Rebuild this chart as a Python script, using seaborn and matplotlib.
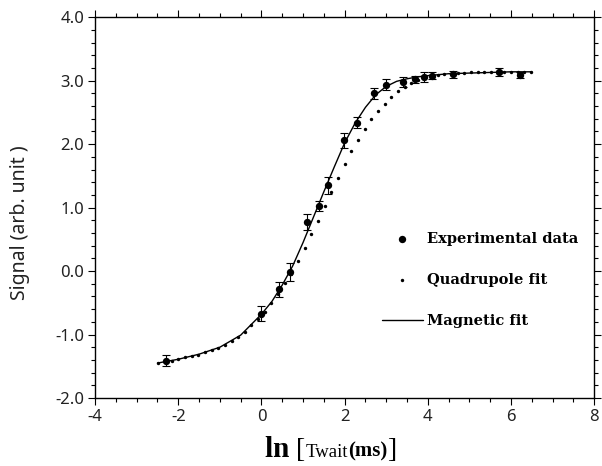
import numpy as np
import pandas as pd
import matplotlib
matplotlib.use("Agg")
import matplotlib.pyplot as plt
import seaborn as sns
from matplotlib.ticker import MultipleLocator, FormatStrFormatter
from matplotlib.offsetbox import TextArea, HPacker, AnchoredOffsetbox

# experimental points: ln of waiting time, signal, error
x_exp = [-2.30, 0.00, 0.41, 0.69, 1.10, 1.39, 1.61, 1.99, 2.30, 2.71, 3.00,
         3.40, 3.69, 3.91, 4.09, 4.61, 5.70, 6.21]
y_exp = [-1.41, -0.67, -0.29, -0.01, 0.77, 1.02, 1.35, 2.06, 2.34, 2.80, 2.94,
         2.98, 3.02, 3.06, 3.08, 3.10, 3.14, 3.09]
err_exp = [0.09, 0.12, 0.12, 0.14, 0.13, 0.08, 0.13, 0.12, 0.09, 0.09, 0.08,
           0.08, 0.06, 0.08, 0.06, 0.05, 0.06, 0.05]

# quadrupole fit (dotted)
x_quad = [-2.48, -2.32, -2.16, -2.00, -1.84, -1.68, -1.52, -1.36, -1.20, -1.04,
          -0.88, -0.72, -0.56, -0.40, -0.24, -0.08, 0.08, 0.24, 0.40, 0.56,
          0.72, 0.88, 1.04, 1.20, 1.36, 1.52, 1.68, 1.84, 2.00, 2.16,
          2.32, 2.48, 2.64, 2.80, 2.96, 3.12, 3.28, 3.44, 3.60, 3.76,
          3.92, 4.08, 4.24, 4.40, 4.56, 4.72, 4.88, 5.04, 5.20, 5.36,
          5.52, 5.68, 5.84, 6.00, 6.16, 6.32, 6.48]
y_quad = [-1.45, -1.43, -1.41, -1.39, -1.36, -1.34, -1.32, -1.28, -1.25, -1.21,
          -1.17, -1.11, -1.04, -0.96, -0.85, -0.76, -0.64, -0.50, -0.36, -0.19,
          -0.04, 0.16, 0.36, 0.58, 0.79, 1.02, 1.24, 1.47, 1.69, 1.89,
          2.07, 2.24, 2.39, 2.52, 2.64, 2.74, 2.83, 2.90, 2.96, 3.01,
          3.04, 3.07, 3.09, 3.10, 3.11, 3.12, 3.12, 3.13, 3.13, 3.13,
          3.14, 3.14, 3.14, 3.14, 3.14, 3.14, 3.14]

# magnetic fit (solid)
x_mag = [-2.5, -2.0, -1.5, -1.0, -0.5, 0.0, 0.25, 0.5, 0.75, 1.0, 1.25, 1.5,
         1.75, 2.0, 2.25, 2.5, 2.75, 3.0, 3.25, 3.5, 3.75, 4.0, 4.5, 5.0,
         5.5, 6.0, 6.5]
y_mag = [-1.45, -1.39, -1.31, -1.20, -1.01, -0.68, -0.48, -0.22, 0.08, 0.45,
         0.85, 1.25, 1.64, 2.02, 2.33, 2.58, 2.78, 2.91, 2.99, 3.03, 3.06,
         3.08, 3.11, 3.12, 3.13, 3.14, 3.14]

sns.set_theme(style="ticks")
plt.rcParams["font.family"] = ["Liberation Serif", "DejaVu Serif"]
plt.rcParams["axes.unicode_minus"] = False
plt.rcParams["text.color"] = "black"
plt.rcParams["axes.labelcolor"] = "black"

fig = plt.figure(figsize=(6.02, 4.66), dpi=100)
ax = fig.add_axes([0.158, 0.146, 0.829, 0.817])

mag = pd.DataFrame({"x": x_mag, "y": y_mag})
quad = pd.DataFrame({"x": x_quad, "y": y_quad})
exp = pd.DataFrame({"x": x_exp, "y": y_exp})

ax.errorbar(x_exp, y_exp, yerr=err_exp, fmt="none", ecolor="black",
            elinewidth=0.8, capsize=3, capthick=0.8, zorder=2)
sns.lineplot(data=mag, x="x", y="y", color="black", linewidth=1.0, ax=ax,
             label="Magnetic fit", zorder=3)
sns.scatterplot(data=quad, x="x", y="y", color="black", s=6, linewidth=0,
                ax=ax, label="Quadrupole fit", zorder=3)
sns.scatterplot(data=exp, x="x", y="y", color="black", s=28, linewidth=0,
                ax=ax, label="Experimental data", zorder=4)

ax.set_xlim(-4, 8)
ax.set_ylim(-2, 4)
ax.xaxis.set_major_locator(MultipleLocator(2))
ax.xaxis.set_minor_locator(MultipleLocator(0.5))
ax.yaxis.set_major_locator(MultipleLocator(1))
ax.yaxis.set_minor_locator(MultipleLocator(0.2))
ax.yaxis.set_major_formatter(FormatStrFormatter("%.1f"))

for s in ax.spines.values():
    s.set_visible(True)
    s.set_linewidth(1.0)
    s.set_color("black")
ax.tick_params(which="both", direction="out", top=True, right=True,
               width=0.8, colors="black")
ax.tick_params(which="major", length=5, labelsize=12, pad=3)
ax.tick_params(which="minor", length=3)
for lab in ax.get_xticklabels() + ax.get_yticklabels():
    lab.set_family(["Noto Sans", "DejaVu Sans"])
    lab.set_color("#222222")

ax.set_xlabel("")
ax.set_ylabel("Signal (arb. unit )", fontsize=14, color="#222222",
              family=["Noto Sans", "DejaVu Sans"])
ax.yaxis.set_label_coords(-0.13, 0.46)

# legend in the order of the figure
h, l = ax.get_legend_handles_labels()
order = [l.index("Experimental data"), l.index("Quadrupole fit"), l.index("Magnetic fit")]
leg = ax.legend([h[i] for i in order], [l[i] for i in order], frameon=False,
                loc="center left", bbox_to_anchor=(0.575, 0.31),
                prop={"size": 10.5, "weight": "bold", "family": "DejaVu Serif"},
                handlelength=2.8, handletextpad=0.3, labelspacing=1.87,
                borderpad=0, borderaxespad=0)

# x label built from pieces of different size
parts = [TextArea("ln ", textprops=dict(size=21, weight="bold")),
         TextArea("[", textprops=dict(size=20)),
         TextArea("Twait", textprops=dict(size=13.5)),
         TextArea("(ms)", textprops=dict(size=15, weight="bold")),
         TextArea("]", textprops=dict(size=20))]
pack = HPacker(children=parts, align="baseline", pad=0, sep=0)
box = AnchoredOffsetbox(loc="lower center", child=pack, frameon=False,
                        bbox_to_anchor=(0.549, 0.0), bbox_transform=fig.transFigure,
                        borderpad=0.2, pad=0)
fig.add_artist(box)

fig.savefig("out.png", dpi=100)
